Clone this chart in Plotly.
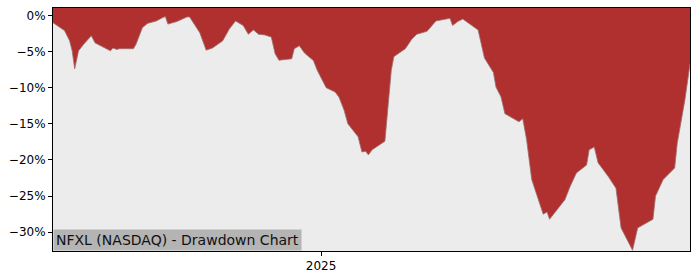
import plotly.graph_objects as go

dates = ["2024-06-05","2024-06-14","2024-06-18","2024-06-20","2024-06-22","2024-06-25","2024-06-29",
"2024-07-05","2024-07-08","2024-07-20","2024-07-22","2024-07-25","2024-07-27","2024-08-07","2024-08-09",
"2024-08-14","2024-08-18","2024-08-25","2024-08-30","2024-09-01","2024-09-03","2024-09-10","2024-09-18",
"2024-09-20","2024-09-28","2024-10-03","2024-10-08","2024-10-16","2024-10-21","2024-10-26","2024-11-01",
"2024-11-05","2024-11-09","2024-11-13","2024-11-18","2024-11-23","2024-11-26","2024-11-29","2024-12-09",
"2024-12-11","2024-12-15","2024-12-19","2024-12-26","2024-12-29","2025-01-05","2025-01-12","2025-01-15",
"2025-01-19","2025-01-22","2025-01-30","2025-02-02","2025-02-05","2025-02-07","2025-02-10","2025-02-20",
"2025-02-23","2025-02-25","2025-02-27","2025-03-08","2025-03-13","2025-03-17","2025-03-25","2025-03-29",
"2025-04-01","2025-04-12","2025-04-14","2025-04-18","2025-04-22","2025-05-04","2025-05-09","2025-05-16",
"2025-05-18","2025-05-22","2025-05-25","2025-06-05","2025-06-08","2025-06-11","2025-06-15","2025-06-24",
"2025-06-27","2025-06-29","2025-07-11","2025-07-15","2025-07-20","2025-07-28","2025-07-30","2025-08-03",
"2025-08-06","2025-08-14","2025-08-20","2025-08-24","2025-09-02","2025-09-06","2025-09-18","2025-09-20",
"2025-09-26","2025-10-05","2025-10-07","2025-10-13","2025-10-17"]

drawdown = [-1.0,-2.1,-3.5,-4.9,-7.4,-4.9,-4.0,
-2.8,-3.8,-4.9,-4.5,-4.7,-4.6,-4.6,-4.0,
-1.7,-1.1,-0.76,-0.3,-0.16,-1.2,-0.85,-0.2,
-0.2,-2.4,-4.8,-4.5,-3.5,-1.9,-0.76,-1.4,
-2.6,-2.0,-2.6,-2.7,-3.0,-5.3,-6.2,-6.0,
-4.6,-4.2,-5.2,-6.25,-7.6,-10.0,-10.6,-11.3,
-13.1,-15.0,-16.8,-18.9,-18.8,-19.3,-18.6,-17.4,
-11.7,-7.6,-5.7,-4.6,-3.3,-2.6,-2.2,-1.3,
-0.76,-0.4,-1.4,-0.85,-0.5,-2.0,-5.9,-7.9,
-9.9,-11.3,-13.6,-14.7,-14.3,-17.2,-22.7,-27.5,
-27.2,-28.2,-25.5,-23.7,-21.8,-20.7,-18.6,-18.2,
-20.4,-22.3,-23.9,-29.4,-32.5,-29.4,-28.2,-25.0,
-22.7,-21.1,-17.7,-11.7,-6.7]

y_ticks = [0, -5, -10, -15, -20, -25, -30]
y_ticktext = ["0%", "\u22125%", "\u221210%", "\u221215%", "\u221220%", "\u221225%", "\u221230%"]
x_ticks = ["2025-01-01"]
x_ticktext = ["2025"]
title_text = "NFXL (NASDAQ) - Drawdown Chart"
x_range = ["2024-06-05", "2025-10-17"]
y_range = [-32.6, 1.03]
top_level = [2.0] * len(dates)

fig = go.Figure()
fig.add_trace(go.Scatter(x=dates, y=top_level, mode="lines", line=dict(width=0, color="rgba(0,0,0,0)"),
                         hoverinfo="skip", showlegend=False))
fig.add_trace(go.Scatter(x=dates, y=drawdown, mode="lines", fill="tonexty",
                         fillcolor="#B03030", line=dict(color="#9a7070", width=0.8),
                         showlegend=False))

fig.update_layout(
    width=700, height=280,
    margin=dict(l=53, r=10, t=7, b=28),
    paper_bgcolor="white", plot_bgcolor="#ECECEC",
    font=dict(family="DejaVu Sans", size=12, color="black"),
    xaxis=dict(range=x_range, tickmode="array", tickvals=x_ticks, ticktext=x_ticktext, showgrid=False,
               showline=True, linecolor="black", linewidth=1, mirror=True,
               ticks="outside", ticklen=4, tickcolor="black", zeroline=False),
    yaxis=dict(range=y_range, tickmode="array", tickvals=y_ticks, ticktext=y_ticktext, showgrid=False,
               showline=True, linecolor="black", linewidth=1, mirror=True,
               ticks="outside", ticklen=4, tickcolor="black", zeroline=False),
    annotations=[dict(text=title_text, xref="paper", yref="paper", x=0, y=0,
                      xanchor="left", yanchor="bottom", showarrow=False,
                      bgcolor="#B4B4B4", borderpad=2,
                      font=dict(family="DejaVu Sans", size=14, color="#111111"))],
)
fig.write_html("out.html")
